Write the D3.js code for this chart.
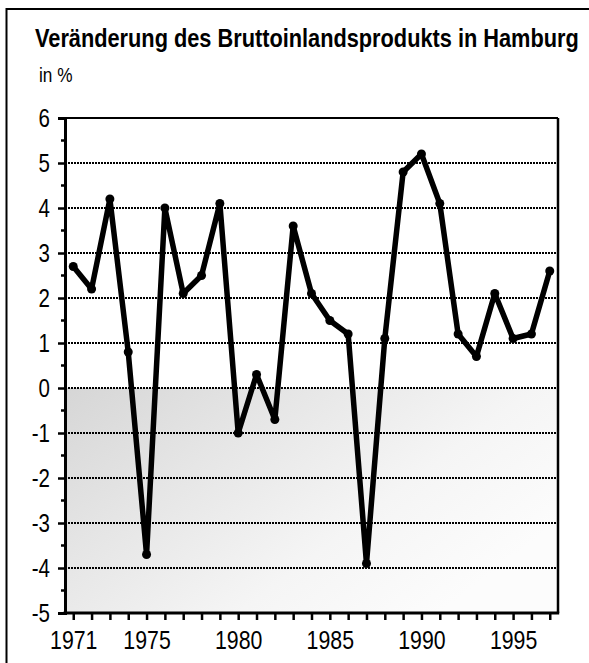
<!DOCTYPE html>
<html><head><meta charset="utf-8">
<script src="https://cdn.jsdelivr.net/npm/d3@7"></script>
<style>
html,body{margin:0;padding:0;background:#fff;}
svg{display:block;}
text{font-family:"Liberation Sans",Arial,sans-serif;fill:#000;}
</style></head>
<body>
<svg id="chart" width="589" height="663"></svg>
<script>
const title = "Veränderung des Bruttoinlandsprodukts in Hamburg";
const unitLabel = "in %";
const years = [1971,1972,1973,1974,1975,1976,1977,1978,1979,1980,1981,1982,1983,1984,1985,1986,1987,1988,1989,1990,1991,1992,1993,1994,1995,1996,1997];
const changes = [2.7,2.2,4.2,0.8,-3.7,4.0,2.1,2.5,4.1,-1.0,0.3,-0.7,3.6,2.1,1.5,1.2,-3.9,1.1,4.8,5.2,4.1,1.2,0.7,2.1,1.1,1.2,2.6];
const yTicks = [6,5,4,3,2,1,0,-1,-2,-3,-4,-5];
const xTickLabels = [1971,1975,1980,1985,1990,1995];

(function(){
const svg = d3.select("#chart");
const pL = 65, pR = 558, pT = 118, pB = 613;
const SX = 0.82; // narrow font emulation

const x = d3.scaleLinear().domain([1970.55, 1997.45]).range([pL, pR]);
const y = d3.scaleLinear().domain([-5, 6]).range([pB, pT]);

// outer frame
svg.append("rect").attr("x",6.5).attr("y",9).attr("width",600).attr("height",700)
  .attr("fill","none").attr("stroke","#000").attr("stroke-width",2);

// title (condensed)
const t = svg.append("text").attr("font-size",25).attr("font-weight","bold").text(title);
const w = t.node().getComputedTextLength();
t.attr("transform",`translate(35,47) scale(${Math.min(1,544/w)},1)`);
svg.append("text").attr("font-size",21).attr("transform",`translate(39,82) scale(${SX},1)`).text(unitLabel);

// shaded negative area
const defs = svg.append("defs");
const grad = defs.append("linearGradient").attr("id","neg").attr("x1","0").attr("y1","0").attr("x2","1").attr("y2","0.6");
grad.append("stop").attr("offset","0").attr("stop-color","#d6d6d6");
grad.append("stop").attr("offset","0.35").attr("stop-color","#e6e6e6");
grad.append("stop").attr("offset","0.7").attr("stop-color","#f5f5f5");
grad.append("stop").attr("offset","1").attr("stop-color","#fcfcfc");
svg.append("rect").attr("x",pL).attr("y",y(0)).attr("width",pR-pL).attr("height",y(-5)-y(0))
  .attr("fill","url(#neg)");

// grid lines
svg.append("g").selectAll("line").data(yTicks.filter(d=>d>-5 && d<6)).join("line")
  .attr("x1",pL).attr("x2",pR).attr("y1",d=>y(d)).attr("y2",d=>y(d))
  .attr("stroke","#000").attr("stroke-width",2).attr("stroke-dasharray","2,1");

// frame top/right
svg.append("line").attr("x1",pL).attr("x2",pR).attr("y1",y(6)).attr("y2",y(6)).attr("stroke","#000").attr("stroke-width",2.2);
svg.append("line").attr("x1",pR).attr("x2",pR).attr("y1",y(6)).attr("y2",y(-5)).attr("stroke","#000").attr("stroke-width",2.5);

// y axis
const yAxis = d3.axisLeft(y).tickValues(yTicks).tickSize(7).tickPadding(8).tickFormat(d=>String(d));
const gy = svg.append("g").attr("transform",`translate(${pL},0)`).call(yAxis);
gy.select(".domain").attr("stroke-width",3);
gy.selectAll(".tick line").attr("stroke-width",2.5);
gy.selectAll(".tick text").attr("font-size",25).attr("font-family","'Liberation Sans',Arial,sans-serif")
  .attr("x",-15/SX).attr("transform",`scale(${SX},1)`);
// minor ticks
const minor = d3.range(-4.5, 6, 1);
svg.append("g").selectAll("line").data(minor).join("line")
  .attr("x1",pL-4).attr("x2",pL).attr("y1",d=>y(d)).attr("y2",d=>y(d))
  .attr("stroke","#000").attr("stroke-width",2.5);

// x axis
const xAxis = d3.axisBottom(x).tickValues(years).tickSize(7).tickPadding(11)
  .tickFormat(d=>xTickLabels.includes(d)?String(d):"");
const gx = svg.append("g").attr("transform",`translate(0,${pB})`).call(xAxis);
gx.select(".domain").remove();
gx.selectAll(".tick line").attr("stroke-width",2.5);
gx.selectAll(".tick text").attr("font-size",26).attr("font-family","'Liberation Sans',Arial,sans-serif")
  .attr("transform",`scale(${SX},1)`);
svg.append("line").attr("x1",pL-1.5).attr("x2",pR+1.2).attr("y1",pB).attr("y2",pB).attr("stroke","#000").attr("stroke-width",3);

// line
const line = d3.line().x((d,i)=>x(years[i])).y(d=>y(d));
svg.append("path").datum(changes).attr("d",line).attr("fill","none").attr("stroke","#000")
  .attr("stroke-width",5.5).attr("stroke-linejoin","round");
svg.append("g").selectAll("circle").data(changes).join("circle")
  .attr("cx",(d,i)=>x(years[i])).attr("cy",d=>y(d)).attr("r",4.5).attr("fill","#000");
})();
</script>
</body></html>
